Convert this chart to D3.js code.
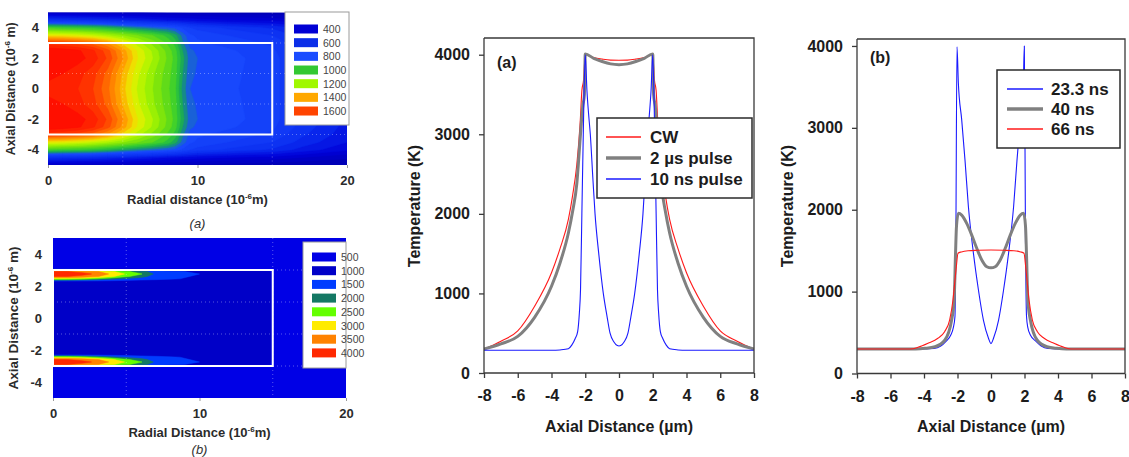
<!DOCTYPE html>
<html>
<head>
<meta charset="utf-8">
<script src="https://cdn.jsdelivr.net/npm/d3@7"></script>
<style>
  body { margin: 0; background: #fff; }
  svg { display: block; }
  text { font-family: "Liberation Sans", Arial, Helvetica, sans-serif; }
</style>
</head>
<body>
<svg id="fig" width="1129" height="457"></svg>
<script>
// ---------- Contour map (a): CW heating, temperature (K) ----------
const mapA_r = [0, 1, 2, 3, 4, 5, 6, 7, 8, 8.5, 9, 9.5, 10, 12, 15, 17, 20];
const mapA_z = [5, 4.5, 4, 3.5, 3, 2.5, 2, 1, 0, -1, -2, -2.5, -3, -3.5, -4, -4.5, -5];
const mapA_T = [
  [380, 375, 370, 365, 360, 355, 350, 345, 340, 340, 335, 330, 330, 320, 310, 300, 300],
  [620, 610, 600, 590, 575, 560, 540, 520, 500, 495, 490, 480, 470, 450, 430, 400, 360],
  [1020, 1000, 990, 970, 940, 900, 860, 830, 800, 780, 740, 700, 680, 640, 590, 530, 460],
  [1300, 1290, 1270, 1240, 1200, 1150, 1100, 1050, 980, 920, 830, 760, 740, 700, 650, 580, 500],
  [1620, 1600, 1570, 1520, 1440, 1330, 1220, 1130, 1040, 980, 860, 780, 760, 730, 690, 610, 520],
  [1740, 1730, 1710, 1660, 1570, 1430, 1290, 1190, 1080, 1020, 900, 810, 790, 760, 710, 630, 530],
  [1750, 1740, 1720, 1680, 1590, 1450, 1300, 1200, 1090, 1030, 920, 820, 800, 770, 720, 640, 540],
  [1710, 1700, 1670, 1620, 1530, 1390, 1260, 1160, 1070, 1020, 900, 810, 795, 765, 720, 640, 540],
  [1690, 1680, 1650, 1600, 1510, 1370, 1240, 1150, 1060, 1010, 880, 800, 790, 760, 720, 640, 540],
  [1710, 1700, 1670, 1620, 1530, 1390, 1260, 1160, 1070, 1020, 900, 810, 795, 765, 720, 640, 540],
  [1750, 1740, 1720, 1680, 1590, 1450, 1300, 1200, 1090, 1030, 920, 820, 800, 770, 720, 640, 540],
  [1740, 1730, 1710, 1660, 1570, 1430, 1290, 1190, 1080, 1020, 900, 810, 790, 760, 710, 630, 530],
  [1620, 1600, 1570, 1520, 1440, 1330, 1220, 1130, 1040, 980, 860, 780, 760, 730, 690, 610, 520],
  [1300, 1290, 1270, 1240, 1200, 1150, 1100, 1050, 980, 920, 830, 760, 740, 700, 650, 580, 500],
  [1020, 1000, 990, 970, 940, 900, 860, 830, 800, 780, 740, 700, 680, 640, 590, 530, 460],
  [620, 610, 600, 590, 575, 560, 540, 520, 500, 495, 490, 480, 470, 450, 430, 400, 360],
  [380, 375, 370, 365, 360, 355, 350, 345, 340, 340, 335, 330, 330, 320, 310, 300, 300]
];
const mapA_legendValues = [400, 600, 800, 1000, 1200, 1400, 1600];
const mapA_legendColors = ["#0000d4", "#0b2ee8", "#1a4cff", "#33c832", "#a0f800", "#ffa800", "#ff4400"];

// ---------- Contour map (b): 10 ns pulse, temperature (K) ----------
const mapB_r = [0, 1, 2, 3, 4, 5, 6, 7, 8, 10, 12, 14, 15, 16, 18, 20];
const mapB_z = [5, 3.5, 3.1, 3.0, 2.9, 2.75, 2.6, 2.45, 2.3, 2, 0, -2, -2.3, -2.45, -2.6, -2.75, -2.9, -3.0, -3.1, -3.5, -5];
const mapB_T = [
  [500, 500, 500, 500, 500, 500, 500, 500, 500, 500, 500, 500, 500, 500, 500, 500],
  [500, 500, 500, 500, 500, 500, 500, 500, 500, 500, 500, 500, 500, 500, 500, 500],
  [500, 500, 500, 500, 500, 500, 500, 500, 500, 500, 500, 500, 500, 500, 500, 500],
  [2300, 2250, 2100, 1900, 1600, 1350, 1150, 950, 820, 760, 740, 720, 600, 500, 500, 500],
  [3800, 3750, 3600, 3300, 2850, 2350, 1950, 1500, 1350, 1150, 1000, 950, 700, 500, 500, 500],
  [4100, 4050, 3920, 3650, 3150, 2700, 2300, 1650, 1450, 1250, 1080, 1000, 720, 500, 500, 500],
  [3800, 3750, 3600, 3300, 2850, 2350, 1950, 1500, 1350, 1200, 1050, 1000, 720, 500, 500, 500],
  [2700, 2650, 2500, 2250, 1900, 1650, 1500, 1400, 1300, 1150, 1050, 1000, 720, 500, 500, 500],
  [1150, 1150, 1120, 1100, 1080, 1050, 1030, 1000, 1000, 1000, 1000, 1000, 720, 500, 500, 500],
  [1000, 1000, 1000, 1000, 1000, 1000, 1000, 1000, 1000, 1000, 1000, 1000, 720, 500, 500, 500],
  [1000, 1000, 1000, 1000, 1000, 1000, 1000, 1000, 1000, 1000, 1000, 1000, 720, 500, 500, 500],
  [1000, 1000, 1000, 1000, 1000, 1000, 1000, 1000, 1000, 1000, 1000, 1000, 720, 500, 500, 500],
  [1150, 1150, 1120, 1100, 1080, 1050, 1030, 1000, 1000, 1000, 1000, 1000, 720, 500, 500, 500],
  [2700, 2650, 2500, 2250, 1900, 1650, 1500, 1400, 1300, 1150, 1050, 1000, 720, 500, 500, 500],
  [3800, 3750, 3600, 3300, 2850, 2350, 1950, 1500, 1350, 1200, 1050, 1000, 720, 500, 500, 500],
  [4100, 4050, 3920, 3650, 3150, 2700, 2300, 1650, 1450, 1250, 1080, 1000, 720, 500, 500, 500],
  [3800, 3750, 3600, 3300, 2850, 2350, 1950, 1500, 1350, 1150, 1000, 950, 700, 500, 500, 500],
  [2300, 2250, 2100, 1900, 1600, 1350, 1150, 950, 820, 760, 740, 720, 600, 500, 500, 500],
  [500, 500, 500, 500, 500, 500, 500, 500, 500, 500, 500, 500, 500, 500, 500, 500],
  [500, 500, 500, 500, 500, 500, 500, 500, 500, 500, 500, 500, 500, 500, 500, 500],
  [500, 500, 500, 500, 500, 500, 500, 500, 500, 500, 500, 500, 500, 500, 500, 500]
];
const mapB_legendValues = [500, 1000, 1500, 2000, 2500, 3000, 3500, 4000];
const mapB_legendColors = ["#0000e6", "#0000c8", "#003cff", "#147864", "#64ff00", "#ffeb00", "#ff8200", "#ff2800"];

const radialTicks = [0, 10, 20];
const axialMapTicks = [4, 2, 0, -2, -4];

// ---------- Axial temperature profiles ----------
const axialTicks = [-8, -6, -4, -2, 0, 2, 4, 6, 8];
const tempTicks = [0, 1000, 2000, 3000, 4000];

// (a) CW / 2 µs / 10 ns
const cw_x = [-8, -7, -6, -5, -4, -3.5, -3, -2.75, -2.5, -2.3, -2.2, -2.1, -2, -1.5, -1, -0.5, 0, 0.5, 1, 1.5, 2, 2.1, 2.2, 2.3, 2.5, 2.75, 3, 3.5, 4, 5, 6, 7, 8];
const cw_T = [300, 400, 530, 840, 1260, 1560, 1930, 2230, 2620, 3150, 3550, 3680, 4000, 3965, 3945, 3932, 3930, 3932, 3945, 3965, 4000, 3680, 3550, 3150, 2620, 2230, 1930, 1560, 1260, 840, 530, 400, 300];
const us2_x = [-8, -7, -6, -5, -4, -3.5, -3, -2.75, -2.5, -2.3, -2.15, -2.05, -2, -1.5, -1, -0.5, 0, 0.5, 1, 1.5, 2, 2.05, 2.15, 2.3, 2.5, 2.75, 3, 3.5, 4, 5, 6, 7, 8];
const us2_T = [300, 365, 460, 700, 1090, 1380, 1760, 2030, 2380, 2950, 3350, 3500, 4010, 3955, 3915, 3885, 3875, 3885, 3915, 3955, 4010, 3500, 3350, 2950, 2380, 2030, 1760, 1380, 1090, 700, 460, 365, 300];
const ns10_x = [-8, -4, -3.5, -3, -2.8, -2.6, -2.45, -2.35, -2.28, -2.2, -2.1, -2, -1.9, -1.8, -1.7, -1.55, -1.42, -1.2, -0.93, -0.7, -0.53, -0.3, -0.1, 0, 0.1, 0.3, 0.53, 0.7, 0.93, 1.2, 1.42, 1.55, 1.7, 1.8, 1.9, 2, 2.1, 2.2, 2.28, 2.35, 2.45, 2.6, 2.8, 3, 3.5, 4, 8];
const ns10_T = [285, 285, 290, 305, 350, 430, 520, 750, 1050, 2000, 3200, 4000, 3550, 3250, 3000, 2450, 2000, 1500, 1000, 700, 500, 390, 345, 340, 345, 390, 500, 700, 1000, 1500, 2000, 2450, 3000, 3250, 3550, 4000, 3200, 2000, 1050, 750, 520, 430, 350, 305, 290, 285, 285];

// (b) 23.3 ns / 40 ns / 66 ns
const t23_x = [-8, -4, -3.4, -3, -2.7, -2.4, -2.25, -2.15, -2.1, -2.03, -1.95, -1.75, -1.55, -1.35, -1.05, -0.75, -0.45, -0.15, 0, 0.15, 0.45, 0.75, 1.05, 1.35, 1.55, 1.75, 1.93, 1.99, 2.06, 2.12, 2.2, 2.35, 2.7, 3, 3.4, 4, 8];
const t23_T = [300, 300, 305, 335, 390, 470, 560, 700, 1600, 3990, 3550, 3100, 2600, 2040, 1470, 1020, 650, 430, 365, 430, 650, 1020, 1470, 2040, 2600, 3100, 3550, 4000, 1600, 700, 560, 470, 390, 335, 305, 300, 300];
const t40_x = [-8, -4.5, -3.94, -3.34, -2.75, -2.35, -2.2, -2.12, -2.06, -1.95, -1.75, -1.45, -1.15, -0.85, -0.55, -0.25, 0, 0.25, 0.55, 0.85, 1.15, 1.45, 1.75, 1.95, 2.06, 2.12, 2.2, 2.35, 2.75, 3.34, 3.94, 4.5, 8];
const t40_T = [300, 300, 307, 327, 409, 653, 900, 1450, 1800, 1956, 1935, 1834, 1691, 1529, 1386, 1304, 1290, 1304, 1386, 1529, 1691, 1834, 1935, 1956, 1800, 1450, 900, 653, 409, 327, 307, 300, 300];
const t66_x = [-8, -4.8, -4.36, -3.76, -3.17, -2.77, -2.47, -2.27, -2.15, -2.07, -1.97, -1.77, -1.37, -0.8, 0, 0.8, 1.37, 1.77, 1.97, 2.07, 2.15, 2.27, 2.47, 2.77, 3.17, 3.76, 4.36, 4.8, 8];
const t66_T = [300, 300, 320, 369, 430, 511, 653, 897, 1141, 1304, 1468, 1485, 1500, 1505, 1508, 1505, 1500, 1485, 1468, 1304, 1141, 897, 653, 511, 430, 369, 320, 300, 300];

const svg = d3.select("#fig");
const mapText = "#2b2b2b";

// Filled contour map on a (possibly non-uniform) radial × axial grid
function drawMap(o) {
  const g = svg.append("g");
  const x = d3.scaleLinear().domain([0, 20]).range([o.x0, o.x1]);
  const y = d3.scaleLinear().domain([-5, 5]).range([o.y1, o.y0]);
  // grid index -> physical coordinate (piecewise linear through the sample positions)
  const colToR = d3.scaleLinear().domain(d3.range(o.r.length)).range(o.r).clamp(true);
  const rowToZ = d3.scaleLinear().domain(d3.range(o.z.length)).range(o.z).clamp(true);
  const path = d3.geoPath(d3.geoTransform({
    point(c, rr) { this.stream.point(x(colToR(c - 0.5)), y(rowToZ(rr - 0.5))); }
  }));
  const bands = d3.contours().size([o.r.length, o.z.length]).thresholds(o.levels)(o.T.flat());

  g.append("clipPath").attr("id", o.id + "clip")
    .append("rect").attr("x", o.x0).attr("y", o.y0).attr("width", o.x1 - o.x0).attr("height", o.y1 - o.y0);
  g.append("g").attr("clip-path", `url(#${o.id}clip)`)
    .selectAll("path").data(bands).join("path")
    .attr("d", path)
    .attr("fill", d => o.fill(d.value))
    .attr("stroke", d => o.fill(d.value))
    .attr("stroke-width", 0.5);

  // faint dotted grid
  const gg = g.append("g").attr("stroke", "#ffffff").attr("stroke-opacity", 0.35)
    .attr("stroke-dasharray", "1,3").attr("stroke-width", 1);
  [5, 15].forEach(v => gg.append("line").attr("x1", x(v)).attr("x2", x(v)).attr("y1", o.y0).attr("y2", o.y1));
  [3, 1, -1, -3].forEach(v => gg.append("line").attr("x1", o.x0).attr("x2", o.x1).attr("y1", y(v)).attr("y2", y(v)));

  // wire outline
  g.append("rect")
    .attr("x", x(0)).attr("y", y(3)).attr("width", x(15) - x(0)).attr("height", y(-3) - y(3))
    .attr("fill", "none").attr("stroke", "#ffffff").attr("stroke-width", 2);

  // axes
  const xa = g.append("g").attr("transform", `translate(0,${o.y1})`)
    .call(d3.axisBottom(x).tickValues(radialTicks).tickSize(3).tickPadding(8).tickFormat(d => String(d)));
  const ya = g.append("g").attr("transform", `translate(${o.x0},0)`)
    .call(d3.axisLeft(y).tickValues(axialMapTicks).tickSize(0).tickPadding(o.yPad).tickFormat(d => String(d)));
  [xa, ya].forEach(a => {
    a.select(".domain").remove();
    a.selectAll("line").attr("stroke", "#9a9a9a");
    a.selectAll("text").attr("font-size", 13).attr("font-weight", "bold").attr("fill", mapText);
  });

  // titles
  const xt = g.append("text").attr("x", (o.x0 + o.x1) / 2).attr("y", o.xTitleY)
    .attr("text-anchor", "middle").attr("font-size", 13).attr("font-weight", "bold").attr("fill", mapText);
  xt.append("tspan").text(o.xTitle + " (10");
  xt.append("tspan").attr("font-size", 8).attr("dy", -5).text("-6");
  xt.append("tspan").attr("dy", 5).text("m)");

  const yt = g.append("text")
    .attr("transform", `translate(${o.yTitleX},${(o.y0 + o.y1) / 2}) rotate(-90)`)
    .attr("text-anchor", "middle").attr("font-size", o.yTitleSize).attr("font-weight", "bold").attr("fill", mapText);
  yt.append("tspan").text("Axial Distance (10");
  yt.append("tspan").attr("font-size", 8).attr("dy", -5).text("-6");
  yt.append("tspan").attr("dy", 5).text(" m)");

  g.append("text").attr("x", (o.x0 + o.x1) / 2).attr("y", o.capY)
    .attr("text-anchor", "middle").attr("font-family", "'Liberation Serif', 'Times New Roman', serif")
    .attr("font-style", "italic").attr("font-size", 13).attr("fill", "#333").text(o.caption);

  // legend
  const L = o.legend;
  const lg = g.append("g");
  lg.append("rect").attr("x", L.x).attr("y", L.y).attr("width", L.w).attr("height", L.h)
    .attr("fill", "#ffffff").attr("stroke", "#9a9a9a").attr("stroke-width", 1);
  const item = lg.selectAll("g.item").data(L.values).join("g").attr("class", "item")
    .attr("transform", (d, i) => `translate(0,${L.first + i * L.step})`);
  item.append("rect").attr("x", L.sx).attr("y", -4.5).attr("width", 24).attr("height", 9)
    .attr("fill", (d, i) => L.colors[i]);
  item.append("text").attr("x", L.tx).attr("y", 4).attr("font-size", 10.5).attr("fill", "#454545").text(d => d);
}

// colour ramp for map (a)
const colorA = d3.scaleLinear()
  .domain([300, 450, 600, 800, 900, 1000, 1100, 1200, 1300, 1400, 1500, 1600, 1700])
  .range(["#0000b0", "#0000d8", "#0b2ef0", "#1a4cff", "#14a060", "#33cc33", "#70e010", "#a8f500", "#e8f000", "#ffaa00", "#ff7600", "#ff3c00", "#ff1800"]);
const levelsA = d3.range(300, 1800, 50);

const levelsB = [0, 750, 1250, 1750, 2250, 2750, 3250, 3750];
const colorB = d3.scaleThreshold().domain(levelsB.slice(1)).range(mapB_legendColors);

drawMap({
  id: "ma", r: mapA_r, z: mapA_z, T: mapA_T, levels: levelsA,
  fill: v => colorA(v + 25),
  x0: 48, x1: 347, y0: 12.5, y1: 165, yPad: 9,
  xTitle: "Radial distance", xTitleY: 204, yTitleX: 15, yTitleSize: 12.5,
  caption: "(a)", capY: 228,
  legend: { x: 285, y: 12, w: 64, h: 113, sx: 294, tx: 323, first: 29, step: 13.67,
            values: mapA_legendValues, colors: mapA_legendColors }
});

drawMap({
  id: "mb", r: mapB_r, z: mapB_z, T: mapB_T, levels: levelsB,
  fill: v => colorB(v + 1),
  x0: 53, x1: 346, y0: 238, y1: 398, yPad: 11,
  xTitle: "Radial Distance", xTitleY: 437, yTitleX: 18, yTitleSize: 13.5,
  caption: "(b)", capY: 454,
  legend: { x: 303, y: 242, w: 43, h: 126, sx: 312, tx: 341, first: 257, step: 13.7,
            values: mapB_legendValues, colors: mapB_legendColors }
});

// Temperature vs axial distance panel
function drawProfile(o) {
  const g = svg.append("g");
  const x = d3.scaleLinear().domain([-8, 8]).range([o.x0, o.x1]);
  const y = d3.scaleLinear().domain([0, o.yMax]).range([o.y1, o.y0]);
  const ink = "#1c1c1c";

  g.append("clipPath").attr("id", o.id + "clip")
    .append("rect").attr("x", o.x0).attr("y", o.y0 - 2).attr("width", o.x1 - o.x0).attr("height", o.y1 - o.y0 + 2);

  const line = d3.line().x(d => x(d[0])).y(d => y(d[1])).curve(d3.curveMonotoneX);
  const lines = g.append("g").attr("clip-path", `url(#${o.id}clip)`);
  o.series.forEach(s => {
    lines.append("path").datum(d3.zip(s.x, s.T)).attr("d", line)
      .attr("fill", "none").attr("stroke", s.color).attr("stroke-width", s.width)
      .attr("stroke-linejoin", "round");
  });

  // frame
  g.append("path")
    .attr("d", `M${o.x0},${o.y0}H${o.x1}V${o.y1}`)
    .attr("fill", "none").attr("stroke", "#3a3a3a").attr("stroke-width", 1.3);

  const xa = g.append("g").attr("transform", `translate(0,${o.y1})`)
    .call(d3.axisBottom(x).tickValues(axialTicks).tickSize(5).tickSizeOuter(0).tickPadding(12).tickFormat(d => String(d)));
  const ya = g.append("g").attr("transform", `translate(${o.x0},0)`)
    .call(d3.axisLeft(y).tickValues(tempTicks).tickSize(5).tickSizeOuter(0).tickPadding(9).tickFormat(d => String(d)));
  [xa, ya].forEach(a => {
    a.select(".domain").attr("stroke", "#3a3a3a").attr("stroke-width", 1.3);
    a.selectAll(".tick line").attr("stroke", "#3a3a3a").attr("stroke-width", 1.3);
    a.selectAll("text").attr("font-size", 16).attr("font-weight", "bold").attr("fill", ink);
  });
  ya.select(".domain").attr("d", `M0,${o.y1}V${o.y0}`);
  xa.select(".domain").attr("d", `M${o.x0},0H${o.x1}`);

  g.append("text").attr("x", (o.x0 + o.x1) / 2).attr("y", 432)
    .attr("text-anchor", "middle").attr("font-size", 16).attr("font-weight", "bold").attr("fill", ink)
    .text("Axial Distance (µm)");
  g.append("text").attr("transform", `translate(${o.yTitleX},206) rotate(-90)`)
    .attr("dy", "0.35em").attr("text-anchor", "middle").attr("font-size", 16).attr("font-weight", "bold").attr("fill", ink)
    .text("Temperature (K)");
  g.append("text").attr("x", o.tagX).attr("y", o.tagY)
    .attr("font-size", 16).attr("font-weight", "bold").attr("fill", ink).text(o.tag);

  const L = o.legend;
  g.append("rect").attr("x", L.x).attr("y", L.y).attr("width", L.w).attr("height", L.h)
    .attr("fill", "#ffffff").attr("stroke", "#2a2a2a").attr("stroke-width", 1.5);
  const item = g.selectAll("g.leg").data(L.order.map(i => o.series[i])).join("g").attr("class", "leg")
    .attr("transform", (d, i) => `translate(0,${L.first + i * L.step})`);
  item.append("line").attr("x1", L.lx0).attr("x2", L.lx1).attr("y1", 0).attr("y2", 0)
    .attr("stroke", d => d.color).attr("stroke-width", d => d.width + 0.3);
  item.append("text").attr("x", L.tx).attr("y", 6).attr("font-size", 17).attr("font-weight", "bold")
    .attr("fill", ink).text(d => d.name);
}

drawProfile({
  id: "pa", x0: 484, x1: 754, y0: 38, y1: 373, yMax: 4210,
  yTitleX: 414, tag: "(a)", tagX: 497, tagY: 68,
  series: [
    { name: "CW", x: cw_x, T: cw_T, color: "#ff1a1a", width: 1.1 },
    { name: "2 µs pulse", x: us2_x, T: us2_T, color: "#808080", width: 3 },
    { name: "10 ns pulse", x: ns10_x, T: ns10_T, color: "#1a1aff", width: 1.1 }
  ],
  legend: { x: 597, y: 118, w: 155, h: 80, lx0: 606, lx1: 641, tx: 650, first: 137, step: 21, order: [0, 1, 2] }
});

drawProfile({
  id: "pb", x0: 857, x1: 1125, y0: 39, y1: 373.5, yMax: 4085,
  yTitleX: 787, tag: "(b)", tagX: 870, tagY: 63,
  series: [
    { name: "23.3 ns", x: t23_x, T: t23_T, color: "#1a1aff", width: 1.1 },
    { name: "40 ns", x: t40_x, T: t40_T, color: "#808080", width: 3 },
    { name: "66 ns", x: t66_x, T: t66_T, color: "#ff1a1a", width: 1.1 }
  ],
  legend: { x: 997, y: 70, w: 123, h: 78, lx0: 1007, lx1: 1043, tx: 1051, first: 89, step: 20, order: [0, 1, 2] }
});
</script>
</body>
</html>
